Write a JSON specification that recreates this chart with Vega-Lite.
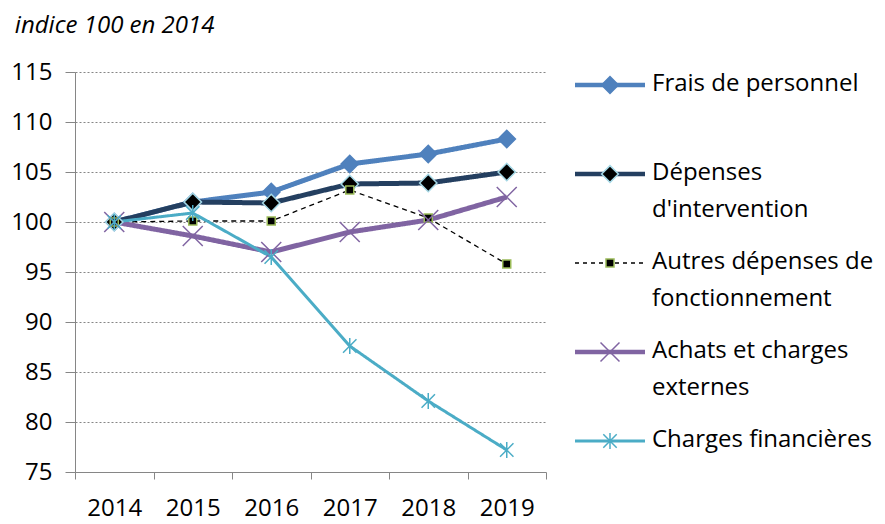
{
  "$schema": "https://vega.github.io/schema/vega-lite/v6.json",
  "background": "white",
  "padding": {"left": 10, "top": 13, "right": 5, "bottom": 0},
  "title": {"text": "indice 100 en 2014", "anchor": "start", "frame": "bounds", "dx": 4, "font": "Open Sans", "fontSize": 24, "fontStyle": "italic", "fontWeight": "normal", "color": "#000000", "offset": 22.5},
  "config": {"view": {"stroke": null}, "font": "Open Sans"},
  "bounds": "flush",
  "spacing": 29,
  "data": {"values": [
    {"series": "Frais de personnel", "year": 2014, "value": 100},
    {"series": "Frais de personnel", "year": 2015, "value": 102.0},
    {"series": "Frais de personnel", "year": 2016, "value": 103.0},
    {"series": "Frais de personnel", "year": 2017, "value": 105.8},
    {"series": "Frais de personnel", "year": 2018, "value": 106.8},
    {"series": "Frais de personnel", "year": 2019, "value": 108.3},
    {"series": "Dépenses d'intervention", "year": 2014, "value": 100},
    {"series": "Dépenses d'intervention", "year": 2015, "value": 102.0},
    {"series": "Dépenses d'intervention", "year": 2016, "value": 101.9},
    {"series": "Dépenses d'intervention", "year": 2017, "value": 103.8},
    {"series": "Dépenses d'intervention", "year": 2018, "value": 103.9},
    {"series": "Dépenses d'intervention", "year": 2019, "value": 105.0},
    {"series": "Autres dépenses de fonctionnement", "year": 2014, "value": 100},
    {"series": "Autres dépenses de fonctionnement", "year": 2015, "value": 100.1},
    {"series": "Autres dépenses de fonctionnement", "year": 2016, "value": 100.1},
    {"series": "Autres dépenses de fonctionnement", "year": 2017, "value": 103.2},
    {"series": "Autres dépenses de fonctionnement", "year": 2018, "value": 100.4},
    {"series": "Autres dépenses de fonctionnement", "year": 2019, "value": 95.8},
    {"series": "Achats et charges externes", "year": 2014, "value": 100},
    {"series": "Achats et charges externes", "year": 2015, "value": 98.6},
    {"series": "Achats et charges externes", "year": 2016, "value": 97.0},
    {"series": "Achats et charges externes", "year": 2017, "value": 99.0},
    {"series": "Achats et charges externes", "year": 2018, "value": 100.2},
    {"series": "Achats et charges externes", "year": 2019, "value": 102.5},
    {"series": "Charges financières", "year": 2014, "value": 100},
    {"series": "Charges financières", "year": 2015, "value": 100.9},
    {"series": "Charges financières", "year": 2016, "value": 96.5},
    {"series": "Charges financières", "year": 2017, "value": 87.6},
    {"series": "Charges financières", "year": 2018, "value": 82.1},
    {"series": "Charges financières", "year": 2019, "value": 77.2}
  ]},
  "hconcat": [
    {
      "width": 471,
      "height": 400,
      "encoding": {
        "x": {"field": "year", "type": "ordinal", "title": null,
          "scale": {"type": "band", "paddingInner": 0, "paddingOuter": 0},
          "axis": {"tickBand": "extent", "labelAngle": 0, "labelFont": "Open Sans", "labelFontSize": 24, "labelColor": "#000000", "tickSize": 7, "labelPadding": 17, "domainColor": "#868686", "tickColor": "#868686", "grid": false}},
        "y": {"field": "value", "type": "quantitative", "title": null,
          "scale": {"domain": [75, 115], "nice": false, "zero": false},
          "axis": {"values": [75, 80, 85, 90, 95, 100, 105, 110, 115], "grid": true, "gridDash": [2, 2], "gridColor": "#868686", "gridWidth": 1, "tickSize": 10, "labelPadding": 13, "labelFont": "Open Sans", "labelFontSize": 24, "labelColor": "#000000", "domainColor": "#868686", "tickColor": "#868686"}}
      },
      "layer": [
        {
          "mark": {"type": "line", "strokeJoin": "round"},
          "encoding": {
            "color": {"field": "series", "type": "nominal", "legend": null,
              "scale": {"domain": ["Frais de personnel", "Dépenses d'intervention", "Autres dépenses de fonctionnement", "Achats et charges externes", "Charges financières"],
                        "range": ["#4F81BD", "#243F60", "#000000", "#8064A2", "#4BACC6"]}},
            "strokeWidth": {"condition": [
                {"test": "datum.series === 'Autres dépenses de fonctionnement'", "value": 1.3},
                {"test": "datum.series === 'Charges financières'", "value": 3}
              ], "value": 5},
            "strokeDash": {"condition": {"test": "datum.series === 'Autres dépenses de fonctionnement'", "value": [5, 4]}, "value": [1, 0]}
          }
        },
        {
          "mark": {"type": "point", "filled": true, "opacity": 1, "strokeWidth": 1.5},
          "encoding": {
            "shape": {"field": "series", "type": "nominal", "legend": null,
              "scale": {"domain": ["Frais de personnel", "Dépenses d'intervention", "Autres dépenses de fonctionnement", "Achats et charges externes", "Charges financières"],
                        "range": ["diamond", "diamond", "square", "M-1,-1L1,1M-1,1L1,-1", "M-1,-1L1,1M-1,1L1,-1M0,-1.2L0,1.2"]}},
            "fill": {"field": "series", "type": "nominal", "legend": null,
              "scale": {"domain": ["Frais de personnel", "Dépenses d'intervention", "Autres dépenses de fonctionnement", "Achats et charges externes", "Charges financières"],
                        "range": ["#4F81BD", "#000000", "#000000", "#8064A2", "#4BACC6"]}},
            "stroke": {"field": "series", "type": "nominal", "legend": null,
              "scale": {"domain": ["Frais de personnel", "Dépenses d'intervention", "Autres dépenses de fonctionnement", "Achats et charges externes", "Charges financières"],
                        "range": ["#4F81BD", "#A5D8E6", "#9BBB59", "#8064A2", "#4BACC6"]}},
            "size": {"condition": [
                {"test": "datum.series === 'Autres dépenses de fonctionnement'", "value": 64},
                {"test": "datum.series === 'Achats et charges externes'", "value": 400},
                {"test": "datum.series === 'Charges financières'", "value": 180}
              ], "value": 300}
          }
        }
      ]
    },
    {
      "width": 70,
      "height": 400,
      "transform": [{"filter": "datum.year == 2014"}],
      "encoding": {
        "y": {"field": "series", "type": "nominal", "axis": null,
          "scale": {"type": "point", "padding": 0, "domain": ["Frais de personnel", "Dépenses d'intervention", "Autres dépenses de fonctionnement", "Achats et charges externes", "Charges financières"], "range": [13, 369]}}
      },
      "layer": [
        {
          "mark": {"type": "rule"},
          "encoding": {
            "x": {"datum": 0, "type": "quantitative", "scale": {"domain": [0, 1], "nice": false, "zero": false}, "axis": null},
            "x2": {"datum": 1},
            "color": {"field": "series", "type": "nominal", "legend": null,
              "scale": {"domain": ["Frais de personnel", "Dépenses d'intervention", "Autres dépenses de fonctionnement", "Achats et charges externes", "Charges financières"],
                        "range": ["#4F81BD", "#243F60", "#000000", "#8064A2", "#4BACC6"]}},
            "strokeWidth": {"condition": [
                {"test": "datum.series === 'Autres dépenses de fonctionnement'", "value": 1.3},
                {"test": "datum.series === 'Charges financières'", "value": 3}
              ], "value": 4.5},
            "strokeDash": {"condition": {"test": "datum.series === 'Autres dépenses de fonctionnement'", "value": [4, 4]}, "value": [1, 0]}
          }
        },
        {
          "mark": {"type": "point", "filled": true, "opacity": 1, "strokeWidth": 1.5},
          "encoding": {
            "x": {"datum": 0.5, "type": "quantitative"},
            "shape": {"field": "series", "type": "nominal", "legend": null,
              "scale": {"domain": ["Frais de personnel", "Dépenses d'intervention", "Autres dépenses de fonctionnement", "Achats et charges externes", "Charges financières"],
                        "range": ["diamond", "diamond", "square", "M-1,-1L1,1M-1,1L1,-1", "M-1,-1L1,1M-1,1L1,-1M0,-1.2L0,1.2"]}},
            "fill": {"field": "series", "type": "nominal", "legend": null,
              "scale": {"domain": ["Frais de personnel", "Dépenses d'intervention", "Autres dépenses de fonctionnement", "Achats et charges externes", "Charges financières"],
                        "range": ["#4F81BD", "#000000", "#000000", "#8064A2", "#4BACC6"]}},
            "stroke": {"field": "series", "type": "nominal", "legend": null,
              "scale": {"domain": ["Frais de personnel", "Dépenses d'intervention", "Autres dépenses de fonctionnement", "Achats et charges externes", "Charges financières"],
                        "range": ["#4F81BD", "#A5D8E6", "#9BBB59", "#8064A2", "#4BACC6"]}},
            "size": {"condition": [
                {"test": "datum.series === 'Autres dépenses de fonctionnement'", "value": 64},
                {"test": "datum.series === 'Achats et charges externes'", "value": 360},
                {"test": "datum.series === 'Charges financières'", "value": 180}
              ], "value": 280}
          }
        },
        {
          "mark": {"type": "text", "align": "left", "baseline": "top", "dx": 7, "dy": -13, "font": "Open Sans", "fontSize": 24, "lineHeight": 37, "color": "#000000"},
          "encoding": {
            "x": {"datum": 1, "type": "quantitative"},
            "text": {
              "condition": [
                {"test": "datum.series === \"Dépenses d'intervention\"", "value": ["Dépenses", "d'intervention"]},
                {"test": "datum.series === \"Autres dépenses de fonctionnement\"", "value": ["Autres dépenses de", "fonctionnement"]},
                {"test": "datum.series === \"Achats et charges externes\"", "value": ["Achats et charges", "externes"]}
              ],
              "field": "series"
            }
          }
        }
      ]
    }
  ]
}
